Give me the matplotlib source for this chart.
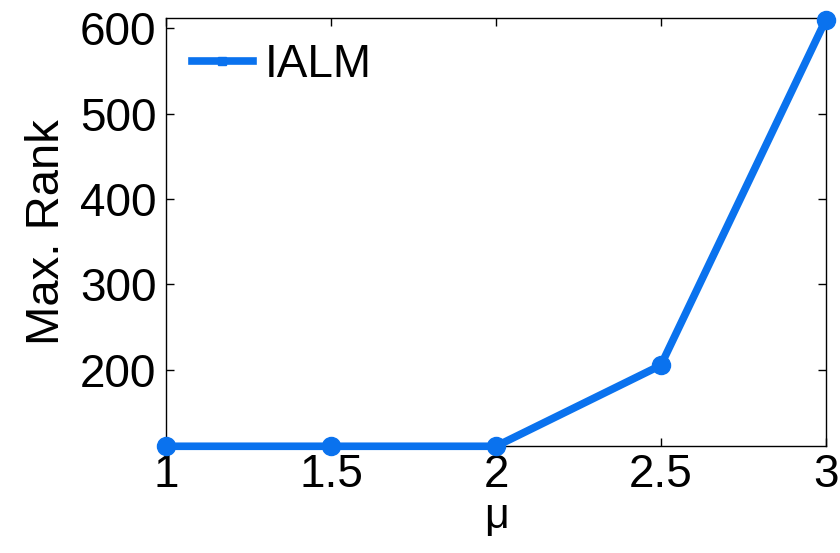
import numpy as np
import matplotlib.pyplot as plt
from matplotlib.lines import Line2D

# values
mu = [1, 1.5, 2, 2.5, 3]
max_rank = [110, 110, 110, 205, 610]
x_ticks = [1, 1.5, 2, 2.5, 3]
x_labels = ['1', '1.5', '2', '2.5', '3']
y_ticks = [200, 300, 400, 500, 600]

blue = '#0a72ee'
plt.rcParams['font.family'] = ['Liberation Sans', 'DejaVu Sans']

fig = plt.figure(figsize=(8.4, 5.53), dpi=100)
ax = fig.add_axes([0.198, 0.193, 0.785, 0.774])

ax.plot(mu, max_rank, '-o', color=blue, linewidth=5.5, markersize=13, clip_on=False, zorder=3)

ax.set_xlim(1, 3)
ax.set_ylim(110, 612)
ax.set_xticks(x_ticks)
ax.set_xticklabels(x_labels)
ax.set_yticks(y_ticks)
ax.tick_params(direction='in', top=True, right=True, labelsize=33, length=6, width=1, pad=7)
ax.tick_params(axis='x', pad=5)
for s in ax.spines.values():
    s.set_linewidth(1)

ax.set_xlabel('μ', fontsize=31, labelpad=0)
ax.set_ylabel('Max. Rank', fontsize=34, labelpad=8)

# legend, no frame, small marker on line
h = Line2D([], [], color=blue, linewidth=5.5, marker='s', markersize=6)
ax.legend([h], ['IALM'], loc='upper left', frameon=False, fontsize=33,
          handlelength=1.35, handletextpad=0.25, borderaxespad=0.15)

fig.savefig('out.png', dpi=100)
